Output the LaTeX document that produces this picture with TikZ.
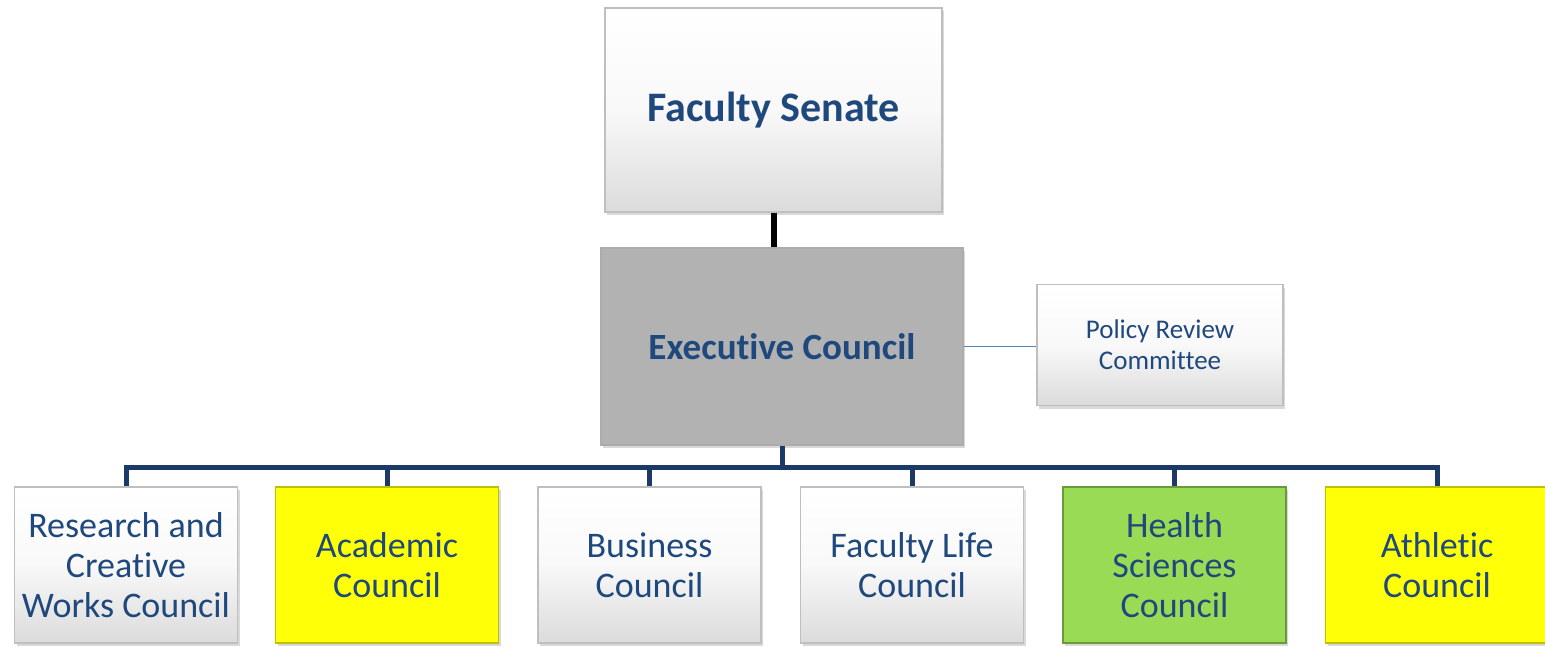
\documentclass[tikz,border=0pt]{standalone}
\usepackage{fontspec}
\setmainfont{Carlito}[Ligatures=NoCommon]
\usepackage{tikz}
\usetikzlibrary{shadows}
\definecolor{navytext}{HTML}{1F497D}
\definecolor{busblue}{HTML}{1B3A68}
\definecolor{linkblue}{HTML}{4F81BD}
\definecolor{councilyellow}{HTML}{FFFF08}
\definecolor{councilgreen}{HTML}{9ADB56}
\definecolor{execgray}{HTML}{B2B2B2}
\tikzset{
every picture/.style={x=1pt, y=-1pt}
}
\tikzset{
  orgbox/.style={inner sep=0pt, align=center, text=navytext, line width=1.2pt,
    drop shadow={shadow xshift=2pt, shadow yshift=-3pt, opacity=0.3, fill=gray}},
  graybox/.style={orgbox, draw=gray!50, top color=white, bottom color=gray!28, middle color=white!95!gray},
  execbox/.style={orgbox, draw=gray!65, fill=execgray},
  yellowbox/.style={orgbox, draw=councilyellow!75!black, fill=councilyellow},
  greenbox/.style={orgbox, draw=councilgreen!70!black, fill=councilgreen},
  council/.style={minimum width=223pt, minimum height=156pt, font=\fontsize{36}{40}\selectfont},
  senateline/.style={line width=6pt, black},
  busline/.style={line width=5pt, busblue},
  linkline/.style={line width=1.5pt, linkblue}
}
\begin{document}
\begin{tikzpicture}
    \useasboundingbox (0,0) rectangle (1545,646);
    % senate and executive level
    \node[graybox, minimum width=337pt, minimum height=204pt, font=\bfseries\fontsize{42}{48}\selectfont] (senate) at (773.5,110) {Faculty Senate};
    \node[execbox, minimum width=362pt, minimum height=197pt, font=\bfseries\fontsize{37}{42}\selectfont] (exec) at (782,346.5) {Executive Council};
    \node[graybox, minimum width=246pt, minimum height=121pt, font=\fontsize{27}{31}\selectfont] (policy) at (1160,345) {Policy Review\\Committee};
    % councils
    \node[graybox, council] (research) at (126,565) {Research and\\Creative\\Works Council};
    \node[yellowbox, council] (academic) at (387,565) {Academic\\Council};
    \node[graybox, council] (business) at (649.5,565) {Business\\Council};
    \node[graybox, council] (life) at (912,565) {Faculty Life\\Council};
    \node[greenbox, council] (health) at (1174.5,565) {Health\\Sciences\\Council};
    \node[yellowbox, council] (athletic) at (1437,565) {Athletic\\Council};
    % connectors
    \coordinate (bus) at (0,467);
    \draw[senateline] (senate.south) -- (senate.south |- exec.north);
    \draw[linkline] (exec.east) -- (exec.east -| policy.west);
    \draw[busline] (exec.south) -- (exec.south |- bus);
    \draw[busline] (research.north) -- (research.north |- bus) -- (athletic.north |- bus) -- (athletic.north);
    \foreach \n in {academic,business,life,health} {
      \draw[busline] (\n.north) -- (\n.north |- bus);
    }
\end{tikzpicture}
\end{document}
